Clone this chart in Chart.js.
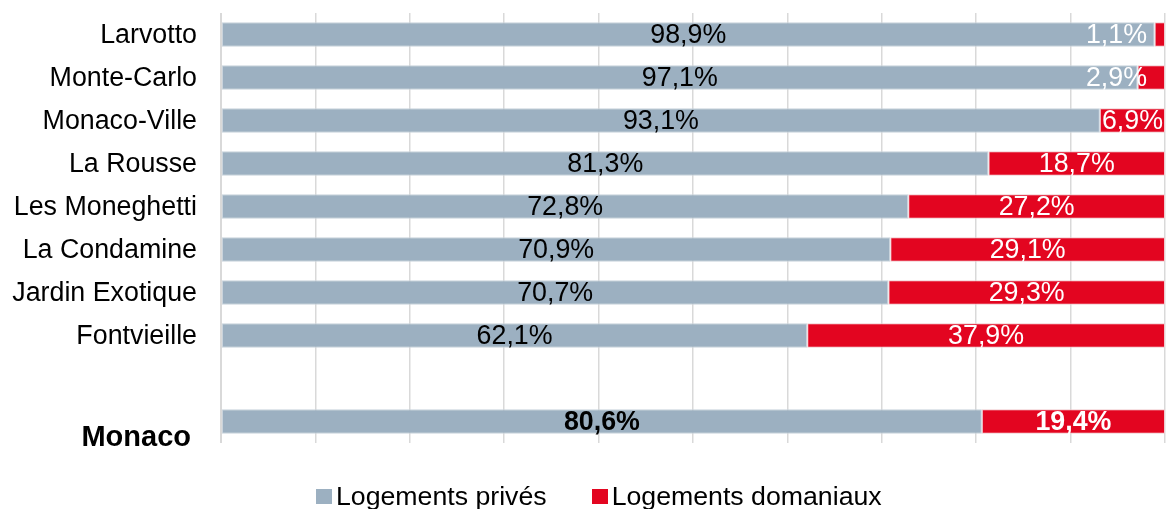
<!DOCTYPE html>
<html>
<head>
<meta charset="utf-8">
<script src="https://cdn.jsdelivr.net/npm/chart.js@4/dist/chart.umd.min.js"></script>
<style>
  html, body { margin:0; padding:0; background:#fff; }
  #wrap { position:relative; width:1166px; height:509px; font-family:"Liberation Sans", Arial, Helvetica, sans-serif; }
  #legend { position:absolute; left:316px; top:481px; display:flex; align-items:center; font-size:26.7px; color:#000; line-height:30px; }
  #legend .sw { width:16px; height:15px; display:inline-block; margin-right:4px; }
  #legend .item { display:flex; align-items:center; margin-right:45px; }
</style>
</head>
<body>
<div id="wrap">
  <canvas id="c" width="1166" height="509"></canvas>
  <div id="legend"></div>
</div>
<script>
// quartiers, top to bottom ('' = empty spacer row)
const quartiers = ['Larvotto','Monte-Carlo','Monaco-Ville','La Rousse','Les Moneghetti','La Condamine','Jardin Exotique','Fontvieille','','Monaco'];
const prives    = [98.9, 97.1, 93.1, 81.3, 72.8, 70.9, 70.7, 62.1, null, 80.6];
const domaniaux = [ 1.1,  2.9,  6.9, 18.7, 27.2, 29.1, 29.3, 37.9, null, 19.4];
const seriesNames = ['Logements privés','Logements domaniaux'];
const GREY = '#9cb0c1', RED = '#e30520';
const FONT = '"Liberation Sans", Arial, Helvetica, sans-serif';
const TOTAL = 'Monaco';

const fmt = v => v.toFixed(1).replace('.', ',') + '%';

// value labels on the bars
const valueLabels = {
  id:'valueLabels',
  afterDatasetsDraw(chart) {
    const ctx = chart.ctx, area = chart.chartArea;
    ctx.save();
    ctx.textBaseline = 'middle';
    ctx.textAlign = 'center';
    chart.data.datasets.forEach((ds, di) => {
      chart.getDatasetMeta(di).data.forEach((bar, i) => {
        const v = ds.data[i];
        if (v == null) return;
        const bold = quartiers[i] === TOTAL;
        ctx.font = (bold ? 'bold ' : '') + '26.8px ' + FONT;
        ctx.fillStyle = di === 0 ? '#000' : '#fff';
        const txt = fmt(v);
        const w = ctx.measureText(txt).width;
        let cx = (bar.base + bar.x) / 2;
        if (w > Math.abs(bar.x - bar.base)) cx = area.right - 18 - w / 2;
        ctx.fillText(txt, cx, bar.y + 1);
      });
    });
    ctx.restore();
  }
};

// category labels on the left
const catLabels = {
  id:'catLabels',
  afterDraw(chart) {
    const ctx = chart.ctx, y = chart.scales.y;
    ctx.save();
    ctx.textAlign = 'right';
    ctx.textBaseline = 'middle';
    ctx.fillStyle = '#000';
    quartiers.forEach((q, i) => {
      if (!q) return;
      const py = y.getPixelForValue(i);
      if (q === TOTAL) {
        ctx.font = 'bold 29px ' + FONT;
        ctx.fillText(q, 191, py + 16);
      } else {
        ctx.font = '26.8px ' + FONT;
        ctx.fillText(q, 197, py + 1);
      }
    });
    ctx.restore();
  }
};

new Chart(document.getElementById('c'), {
  type:'bar',
  data:{ labels:quartiers, datasets:[
    { label:seriesNames[0], data:prives,    backgroundColor:GREY, borderColor:'#c9d3dc', borderWidth:1, borderSkipped:false, barPercentage:0.57, categoryPercentage:1 },
    { label:seriesNames[1], data:domaniaux, backgroundColor:RED,  borderColor:'#f0c8cc', borderWidth:1, borderSkipped:false, barPercentage:0.57, categoryPercentage:1 },
  ]},
  options:{
    indexAxis:'y', responsive:false, animation:false,
    layout:{ padding:{ top:13, bottom:66, left:0, right:1 } },
    plugins:{ legend:{display:false}, tooltip:{enabled:false} },
    scales:{
      x:{ stacked:true, min:0, max:100,
          ticks:{ display:false, stepSize:10 },
          grid:{ color:'#d9d9d9', lineWidth:c => c.index === 0 ? 2 : 1.5, drawTicks:false },
          border:{ display:false },
          afterFit:s => { s.height = 0; } },
      y:{ stacked:true,
          ticks:{ display:false },
          grid:{ display:false },
          border:{ display:false },
          afterFit:s => { s.width = 221; } },
    },
  },
  plugins:[valueLabels, catLabels],
});

document.getElementById('legend').innerHTML = seriesNames.map((n, i) =>
  `<span class="item"><span class="sw" style="background:${i ? RED : GREY}"></span>${n}</span>`).join('');
</script>
</body>
</html>
